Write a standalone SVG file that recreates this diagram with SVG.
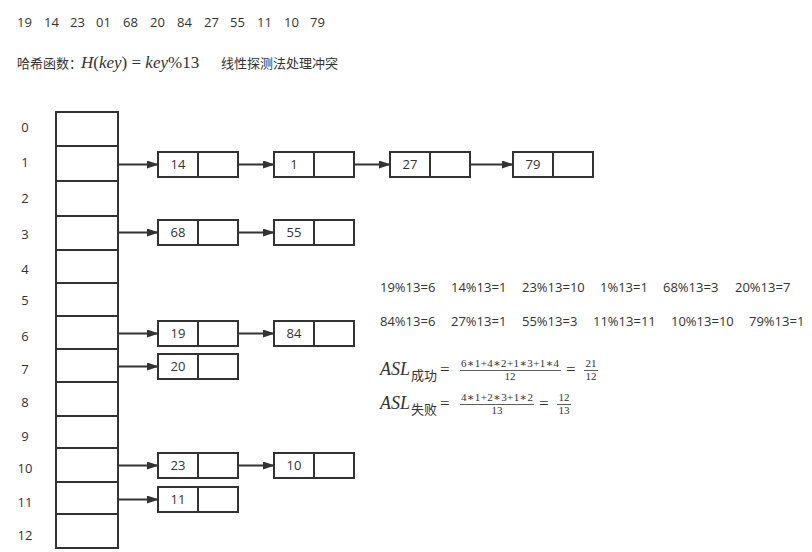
<svg xmlns="http://www.w3.org/2000/svg" width="812" height="552" viewBox="0 0 812 552">
<style>
.t{font-family:"Open Sans","Noto Sans CJK SC",sans-serif;font-size:13px;fill:#333}
.c{font-family:"Noto Sans CJK SC",sans-serif;font-size:13px;fill:#333}
.m{font-family:"Liberation Serif","DejaVu Serif",serif;fill:#333}
.cell{fill:#fff;stroke:#333;stroke-width:2}
.n{fill:#fff;stroke:#333;stroke-width:2}
.lbl{font-family:"Open Sans",sans-serif;font-size:13px;fill:#333;text-anchor:middle}
.con line{stroke:#333;stroke-width:2;marker-end:url(#ah)}
</style>
<defs>
<marker id="ah" markerWidth="12" markerHeight="8" refX="11" refY="4" orient="auto" markerUnits="userSpaceOnUse">
<path d="M0,0 L12,4 L0,8 Z" fill="#333"/>
</marker>
</defs>
<rect width="812" height="552" fill="#fff"/>
<g id="keys" class="t">
<text x="17" y="27">19</text><text x="44" y="27">14</text><text x="70" y="27">23</text><text x="96" y="27">01</text>
<text x="123" y="27">68</text><text x="150" y="27">20</text><text x="177" y="27">84</text><text x="204" y="27">27</text>
<text x="230" y="27">55</text><text x="257" y="27">11</text><text x="284" y="27">10</text><text x="310" y="27">79</text>
</g>
<g id="hashline">
<text class="c" x="17" y="68">哈希函数：</text>
<text class="m" x="81" y="68" font-size="17"><tspan font-style="italic">H</tspan>(<tspan font-style="italic">key</tspan>) = <tspan font-style="italic">key</tspan>%13</text>
<text class="c" x="221" y="68">线性探测法处理冲突</text>
</g>
<g id="table">
<rect class="cell" x="56" y="112" width="62" height="34"/>
<rect class="cell" x="56" y="146" width="62" height="35"/>
<rect class="cell" x="56" y="181" width="62" height="35"/>
<rect class="cell" x="56" y="216" width="62" height="34"/>
<rect class="cell" x="56" y="250" width="62" height="33"/>
<rect class="cell" x="56" y="283" width="62" height="33"/>
<rect class="cell" x="56" y="316" width="62" height="33"/>
<rect class="cell" x="56" y="349" width="62" height="33"/>
<rect class="cell" x="56" y="382" width="62" height="34"/>
<rect class="cell" x="56" y="416" width="62" height="32"/>
<rect class="cell" x="56" y="448" width="62" height="34"/>
<rect class="cell" x="56" y="482" width="62" height="32"/>
<rect class="cell" x="56" y="514" width="62" height="34"/>
</g>
<g id="indices" class="lbl">
<text x="25" y="132">0</text><text x="25" y="167">1</text><text x="25" y="203">2</text><text x="25" y="239">3</text>
<text x="25" y="274">4</text><text x="25" y="305">5</text><text x="25" y="341">6</text><text x="25" y="374">7</text>
<text x="25" y="407">8</text><text x="25" y="441">9</text><text x="25" y="473">10</text><text x="25" y="507">11</text>
<text x="25" y="540">12</text>
</g>
<g id="n14"><rect class="n" x="158" y="152" width="80" height="25"/><line x1="198" y1="152" x2="198" y2="177" stroke="#333" stroke-width="2"/><text class="lbl" x="178" y="169">14</text></g>
<g id="n1"><rect class="n" x="274" y="152" width="80" height="25"/><line x1="314" y1="152" x2="314" y2="177" stroke="#333" stroke-width="2"/><text class="lbl" x="294" y="169">1</text></g>
<g id="n27"><rect class="n" x="390" y="152" width="80" height="25"/><line x1="430" y1="152" x2="430" y2="177" stroke="#333" stroke-width="2"/><text class="lbl" x="410" y="169">27</text></g>
<g id="n79"><rect class="n" x="513" y="152" width="80" height="25"/><line x1="553" y1="152" x2="553" y2="177" stroke="#333" stroke-width="2"/><text class="lbl" x="533" y="169">79</text></g>
<g id="n68"><rect class="n" x="158" y="220" width="80" height="25"/><line x1="198" y1="220" x2="198" y2="245" stroke="#333" stroke-width="2"/><text class="lbl" x="178" y="237">68</text></g>
<g id="n55"><rect class="n" x="274" y="220" width="80" height="25"/><line x1="314" y1="220" x2="314" y2="245" stroke="#333" stroke-width="2"/><text class="lbl" x="294" y="237">55</text></g>
<g id="n19"><rect class="n" x="158" y="321" width="80" height="25"/><line x1="198" y1="321" x2="198" y2="346" stroke="#333" stroke-width="2"/><text class="lbl" x="178" y="338">19</text></g>
<g id="n84"><rect class="n" x="274" y="321" width="80" height="25"/><line x1="314" y1="321" x2="314" y2="346" stroke="#333" stroke-width="2"/><text class="lbl" x="294" y="338">84</text></g>
<g id="n20"><rect class="n" x="158" y="354" width="80" height="25"/><line x1="198" y1="354" x2="198" y2="379" stroke="#333" stroke-width="2"/><text class="lbl" x="178" y="371">20</text></g>
<g id="n23"><rect class="n" x="158" y="453" width="80" height="25"/><line x1="198" y1="453" x2="198" y2="478" stroke="#333" stroke-width="2"/><text class="lbl" x="178" y="470">23</text></g>
<g id="n10"><rect class="n" x="274" y="453" width="80" height="25"/><line x1="314" y1="453" x2="314" y2="478" stroke="#333" stroke-width="2"/><text class="lbl" x="294" y="470">10</text></g>
<g id="n11"><rect class="n" x="158" y="487" width="80" height="25"/><line x1="198" y1="487" x2="198" y2="512" stroke="#333" stroke-width="2"/><text class="lbl" x="178" y="504">11</text></g>
<g id="connectors" class="con">
<line x1="118" y1="164.5" x2="158" y2="164.5"/>
<line x1="238" y1="164.5" x2="274" y2="164.5"/>
<line x1="354" y1="164.5" x2="390" y2="164.5"/>
<line x1="470" y1="164.5" x2="513" y2="164.5"/>
<line x1="118" y1="232.5" x2="158" y2="232.5"/>
<line x1="238" y1="232.5" x2="274" y2="232.5"/>
<line x1="118" y1="333.5" x2="158" y2="333.5"/>
<line x1="238" y1="333.5" x2="274" y2="333.5"/>
<line x1="118" y1="366.5" x2="158" y2="366.5"/>
<line x1="118" y1="465.5" x2="158" y2="465.5"/>
<line x1="238" y1="465.5" x2="274" y2="465.5"/>
<line x1="118" y1="499.5" x2="158" y2="499.5"/>
</g>
<g id="mods" class="t">
<text x="380" y="292">19%13=6</text><text x="451" y="292">14%13=1</text><text x="522" y="292">23%13=10</text>
<text x="600" y="292">1%13=1</text><text x="663" y="292">68%13=3</text><text x="735" y="292">20%13=7</text>
<text x="380" y="326">84%13=6</text><text x="451" y="326">27%13=1</text><text x="522" y="326">55%13=3</text>
<text x="593" y="326">11%13=11</text><text x="671" y="326">10%13=10</text><text x="749" y="326">79%13=1</text>
</g>
<g id="asl1">
<text class="m" x="380" y="375" font-size="18" font-style="italic">ASL</text>
<text class="c" x="411" y="380" font-size="12">成功</text>
<text class="m" x="440" y="375" font-size="17">=</text>
<text class="m" x="461" y="367" font-size="11" textLength="98" lengthAdjust="spacing">6∗1+4∗2+1∗3+1∗4</text>
<line x1="460" y1="370.5" x2="561" y2="370.5" stroke="#333" stroke-width="0.8"/>
<text class="m" x="510" y="380" font-size="11" text-anchor="middle">12</text>
<text class="m" x="566" y="375" font-size="17">=</text>
<text class="m" x="591" y="367" font-size="11" text-anchor="middle">21</text>
<line x1="584" y1="370.5" x2="598" y2="370.5" stroke="#333" stroke-width="0.8"/>
<text class="m" x="591" y="380" font-size="11" text-anchor="middle">12</text>
</g>
<g id="asl2">
<text class="m" x="380" y="409" font-size="18" font-style="italic">ASL</text>
<text class="c" x="411" y="414" font-size="12">失败</text>
<text class="m" x="440" y="409" font-size="17">=</text>
<text class="m" x="461" y="401" font-size="11" textLength="72" lengthAdjust="spacing">4∗1+2∗3+1∗2</text>
<line x1="460" y1="404.5" x2="534" y2="404.5" stroke="#333" stroke-width="0.8"/>
<text class="m" x="497" y="414" font-size="11" text-anchor="middle">13</text>
<text class="m" x="539" y="409" font-size="17">=</text>
<text class="m" x="564" y="401" font-size="11" text-anchor="middle">12</text>
<line x1="557" y1="404.5" x2="571" y2="404.5" stroke="#333" stroke-width="0.8"/>
<text class="m" x="564" y="414" font-size="11" text-anchor="middle">13</text>
</g>
</svg>
